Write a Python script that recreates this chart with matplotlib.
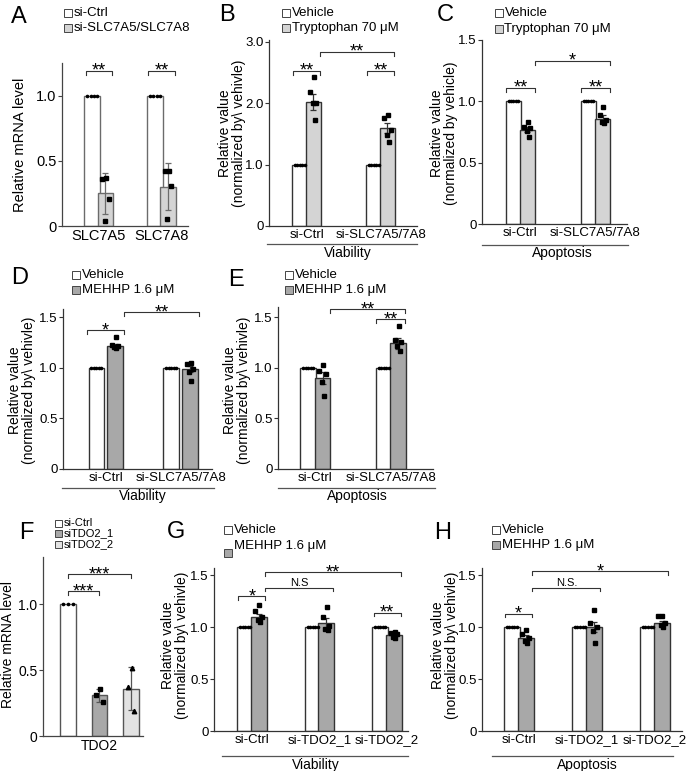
import numpy as np
import matplotlib.pyplot as plt
from matplotlib.patches import Rectangle
from matplotlib.lines import Line2D

plt.rcParams['font.family'] = ['Liberation Sans', 'DejaVu Sans']

# ---------------- data ----------------
# A: qPCR after SLC7A5/SLC7A8 knockdown
a_genes = ['SLC7A5', 'SLC7A8']
a_mean = [[1.0, 0.25], [1.0, 0.30]]
a_err = [[0, 0.155], [0, 0.18]]
a_pts = [[[1, 1, 1, 1], [0.37, 0.36, 0.21, 0.04]],
         [[1, 1, 1, 1], [0.42, 0.42, 0.31, 0.05]]]

# B: viability, tryptophan
b_groups = ['si-Ctrl', 'si-SLC7A5/7A8']
b_mean = [[1.0, 2.02], [1.0, 1.60]]
b_err = [[0, 0.13], [0, 0.08]]
b_pts = [[[1] * 5, [2.43, 2.19, 2.01, 2.01, 1.73]],
         [[1] * 5, [1.81, 1.76, 1.57, 1.48, 1.37]]]

# C: apoptosis, tryptophan
c_groups = ['si-Ctrl', 'si-SLC7A5/7A8']
c_mean = [[1.0, 0.77], [1.0, 0.86]]
c_err = [[0, 0.02], [0, 0.03]]
c_pts = [[[1] * 5, [0.83, 0.79, 0.78, 0.76, 0.71]],
         [[1] * 5, [0.95, 0.89, 0.85, 0.83, 0.82]]]

# D: viability, MEHHP
d_groups = ['si-Ctrl', 'si-SLC7A5/7A8']
d_mean = [[1.0, 1.21], [1.0, 0.99]]
d_err = [[0, 0.02], [0, 0.03]]
d_pts = [[[1] * 5, [1.30, 1.22, 1.21, 1.20, 1.19]],
         [[1] * 5, [1.05, 1.04, 0.99, 0.96, 0.87]]]

# E: apoptosis, MEHHP
e_groups = ['si-Ctrl', 'si-SLC7A5/7A8']
e_mean = [[1.0, 0.90], [1.0, 1.24]]
e_err = [[0, 0.06], [0, 0.05]]
e_pts = [[[1] * 5, [1.03, 0.97, 0.94, 0.86, 0.72]],
         [[1] * 5, [1.41, 1.27, 1.25, 1.21, 1.17]]]

# F: TDO2 knockdown
f_mean = [[1.0, 0.31, 0.36]]
f_err = [[0, 0.05, 0.165]]
f_pts = [[[1, 1, 1], [0.36, 0.31, 0.26], [0.52, 0.37, 0.19]]]

# G: viability, MEHHP, TDO2 knockdown
g_groups = ['si-Ctrl', 'si-TDO2_1', 'si-TDO2_2']
g_mean = [[1.0, 1.10], [1.0, 1.04], [1.0, 0.92]]
g_err = [[0, 0.03], [0, 0.05], [0, 0.01]]
g_pts = [[[1] * 5, [1.21, 1.16, 1.10, 1.07, 1.05]],
         [[1] * 5, [1.19, 1.10, 1.01, 0.98, 0.97]],
         [[1] * 5, [0.95, 0.94, 0.93, 0.91, 0.90]]]

# H: apoptosis, MEHHP, TDO2 knockdown
h_groups = ['si-Ctrl', 'si-TDO2_1', 'si-TDO2_2']
h_mean = [[1.0, 0.90], [1.0, 1.00], [1.0, 1.04]]
h_err = [[0, 0.02], [0, 0.05], [0, 0.02]]
h_pts = [[[1] * 5, [0.97, 0.93, 0.90, 0.87, 0.85]],
         [[1] * 5, [1.17, 1.04, 1.00, 0.96, 0.85]],
         [[1] * 5, [1.11, 1.11, 1.04, 1.02, 1.00]]]

# ---------------- layout helpers ----------------
W, H = 690, 771
fig = plt.figure(figsize=(W / 100, H / 100), dpi=100)

DARK = '#333333'
LIGHT = '#d4d4d4'
MID = '#a8a8a8'
JIT = np.array([0.05, -0.2, 0.2, -0.05, 0.1])


def add_ax(left, right, top, bottom):
    return fig.add_axes([left / W, 1 - bottom / H, (right - left) / W, (bottom - top) / H])


def ftext(x, y, s, **kw):
    fig.text(x / W, 1 - y / H, s, **kw)


def hline(x1, x2, y, color='#555555'):
    fig.add_artist(Line2D([x1 / W, x2 / W], [1 - y / H] * 2, color=color, lw=0.9))


def legend(x, ys, labels, colors, fs=9.5, box=8):
    for y, lab, c in zip(ys, labels, colors):
        fig.add_artist(Rectangle((x / W, 1 - (y + box / 2) / H), box / W, box / H,
                                 facecolor=c, edgecolor='#444444', lw=0.7))
        if lab:
            ftext(x + box + 1.5, y, lab, va='center', ha='left', fontsize=fs)


def style(ax, ylim, xlim, yticks, ylabels, edge=DARK, fs=9.5):
    ax.set_ylim(*ylim)
    ax.set_xlim(*xlim)
    for s in ['top', 'right']:
        ax.spines[s].set_visible(False)
    for s in ['left', 'bottom']:
        ax.spines[s].set_color(edge)
        ax.spines[s].set_linewidth(0.9)
    ax.set_yticks(yticks)
    ax.set_yticklabels(ylabels)
    ax.tick_params(axis='y', length=3, width=0.8, color=edge, labelsize=fs, pad=1)
    ax.tick_params(axis='x', length=0, labelsize=fs, pad=2)
    ax.patch.set_alpha(0)


def draw_bars(ax, means, errs, pts, colors, off, width, edge=DARK, markers=None):
    for g, (gm, ge, gp) in enumerate(zip(means, errs, pts)):
        n = len(gm)
        for i in range(n):
            x = g + (i - (n - 1) / 2) * off
            ax.bar(x, gm[i], width, color=colors[i], edgecolor=edge, linewidth=1.0, zorder=2)
            if ge[i] > 0:
                ax.errorbar(x, gm[i], yerr=ge[i], fmt='none', ecolor=edge, elinewidth=0.9,
                            capsize=2.5, capthick=0.9, zorder=3)
            p = np.array(gp[i], dtype=float)
            m = markers[i] if markers else 's'
            if np.all(p == 1.0):
                xs = x + np.linspace(-0.32, 0.32, len(p)) * width
                ax.plot(xs, p, 'o', ms=1.6, color='black', zorder=4, clip_on=False)
            else:
                xs = x + JIT[:len(p)] * width
                ax.plot(xs, p, m, ms=3.2, color='black', zorder=4, clip_on=False)


def bracket(ax, x1, x2, y, txt, tick, fs=13, color='#333333'):
    ax.plot([x1, x1, x2, x2], [y - tick, y, y, y - tick], color=color, lw=0.8, clip_on=False)
    # asterisks sit high in the em box, so pull their baseline below the line
    dy = -3.6 if '*' in txt else 1.5
    ax.annotate(txt, xy=((x1 + x2) / 2, y), xytext=(0, dy), textcoords='offset points',
                ha='center', va='baseline', fontsize=fs, annotation_clip=False)


def letter(x, y, s):
    ftext(x, y, s, fontsize=17, ha='left', va='center')


ylab2 = 'Relative value\n(normalized by\\ vehivle)'

# ---------------- Panel A ----------------
ax = add_ax(62, 188, 63, 226)
draw_bars(ax, a_mean, a_err, a_pts, ['white', LIGHT], 0.211, 0.25, edge='#6b6b6b')
style(ax, (0, 1.25), (-0.586, 1.42), [0, 0.5, 1.0], ['0', '0.5', '1.0'], edge='#444444', fs=10.5)
ax.set_xticks([0, 1])
ax.set_xticklabels(a_genes)
for g in range(2):
    bracket(ax, g - 0.211, g + 0.211, 1.19, '**', 0.03)
letter(11, 17, 'A')
legend(64, [12.5, 28], ['si-Ctrl', 'si-SLC7A5/SLC7A8'], ['white', LIGHT])
ftext(20, 145, 'Relative mRNA level', rotation=90, ha='center', va='center', fontsize=10.5)

# ---------------- Panel B ----------------
ax = add_ax(269, 417, 40, 226)
draw_bars(ax, b_mean, b_err, b_pts, ['white', LIGHT], 0.182, 0.21)
style(ax, (0, 3.03), (-0.507, 1.49), [0, 1, 2, 3], ['0', '1.0', '2.0', '3.0'])
ax.set_xticks([0, 1])
ax.set_xticklabels(b_groups)
bracket(ax, -0.182, 0.182, 2.53, '**', 0.07)
bracket(ax, 1 - 0.182, 1.182, 2.53, '**', 0.07)
bracket(ax, 0.182, 1.182, 2.84, '**', 0.07)
hline(267, 417, 244)
ftext(348, 253, 'Viability', ha='center', va='center', fontsize=10)
letter(219, 15, 'B')
legend(282, [12.5, 28], ['Vehicle', 'Tryptophan 70 μM'], ['white', LIGHT])
ftext(232, 133, ylab2, rotation=90, ha='center', va='center', fontsize=10,
      multialignment='center', linespacing=1.0)

# ---------------- Panel C ----------------
ax = add_ax(482, 627, 40, 224)
draw_bars(ax, c_mean, c_err, c_pts, ['white', LIGHT], 0.187, 0.2)
style(ax, (0, 1.5), (-0.513, 1.42), [0, 0.5, 1.0, 1.5], ['0', '0.5', '1.0', '1.5'])
ax.set_xticks([0, 1])
ax.set_xticklabels(c_groups)
bracket(ax, -0.187, 0.187, 1.11, '**', 0.035)
bracket(ax, 1 - 0.187, 1.187, 1.11, '**', 0.035)
bracket(ax, 0.187, 1.187, 1.33, '*', 0.035)
hline(482, 628, 245)
ftext(562, 253, 'Apoptosis', ha='center', va='center', fontsize=10)
letter(437, 15, 'C')
legend(495, [12.5, 29], ['Vehicle', 'Tryptophan 70 μM'], ['white', LIGHT])
ftext(444, 133, 'Relative value\n(normalized by vehicle)', rotation=90, ha='center',
      va='center', fontsize=10, multialignment='center', linespacing=1.0)

# ---------------- Panel D ----------------
ax = add_ax(63, 212, 309, 469)
draw_bars(ax, d_mean, d_err, d_pts, ['white', MID], 0.247, 0.21)
style(ax, (0, 1.58), (-0.57, 1.42), [0, 0.5, 1.0, 1.5], ['0', '0.5', '1.0', '1.5'])
ax.set_xticks([0, 1])
ax.set_xticklabels(d_groups)
bracket(ax, -0.247, 0.247, 1.37, '*', 0.035)
bracket(ax, 0.247, 1.247, 1.55, '**', 0.035)
hline(62, 214, 488)
ftext(143, 496, 'Viability', ha='center', va='center', fontsize=10)
letter(11, 278, 'D')
legend(72, [275, 290], ['Vehicle', 'MEHHP 1.6 μM'], ['white', MID])
ftext(22, 390, ylab2, rotation=90, ha='center', va='center', fontsize=10,
      multialignment='center', linespacing=1.0)

# ---------------- Panel E ----------------
ax = add_ax(278, 433, 307, 469)
draw_bars(ax, e_mean, e_err, e_pts, ['white', MID], 0.19, 0.21)
style(ax, (0, 1.6), (-0.495, 1.56), [0, 0.5, 1.0, 1.5], ['0', '0.5', '1.0', '1.5'])
ax.set_xticks([0, 1])
ax.set_xticklabels(e_groups)
bracket(ax, 1 - 0.19, 1.19, 1.48, '**', 0.035)
bracket(ax, 0.19, 1.19, 1.58, '**', 0.035)
hline(278, 435, 488)
ftext(357, 496, 'Apoptosis', ha='center', va='center', fontsize=10)
letter(228, 280, 'E')
legend(285, [275, 290], ['Vehicle', 'MEHHP 1.6 μM'], ['white', MID])
ftext(237, 390, ylab2, rotation=90, ha='center', va='center', fontsize=10,
      multialignment='center', linespacing=1.0)

# ---------------- Panel F ----------------
ax = add_ax(43, 143, 557, 736)
draw_bars(ax, f_mean, f_err, f_pts, ['white', MID, '#e2e2e2'], 1.0, 0.5, edge='#555555',
          markers=['o', 's', '^'])
style(ax, (0, 1.36), (-1.79, 1.38), [0, 0.5, 1.0], ['0', '0.5', '1.0'], edge='#444444', fs=10)
ax.set_xticks([0])
ax.set_xticklabels(['TDO2'])
bracket(ax, -1, 0, 1.10, '***', 0.03)
bracket(ax, -1, 1, 1.23, '***', 0.03)
letter(19, 533, 'F')
legend(55, [523, 533.5, 544], ['si-Ctrl', 'siTDO2_1', 'siTDO2_2'], ['white', MID, '#e2e2e2'],
       fs=8, box=7)
ftext(8, 645, 'Relative mRNA level', rotation=90, ha='center', va='center', fontsize=10)

# ---------------- Panel G ----------------
ax = add_ax(214, 408, 568, 731)
draw_bars(ax, g_mean, g_err, g_pts, ['white', MID], 0.2, 0.237)
style(ax, (0, 1.57), (-0.56, 2.31), [0, 0.5, 1.0, 1.5], ['0', '0.5', '1.0', '1.5'])
ax.set_xticks([0, 1, 2])
ax.set_xticklabels(g_groups)
bracket(ax, -0.2, 0.2, 1.30, '*', 0.035)
bracket(ax, 0.2, 1.2, 1.38, 'N.S', 0.035, fs=8)
bracket(ax, 0.2, 2.2, 1.53, '**', 0.035)
bracket(ax, 1.8, 2.2, 1.14, '**', 0.035)
hline(222, 408, 756)
ftext(316, 765, 'Viability', ha='center', va='center', fontsize=10)
letter(167, 532, 'G')
legend(224, [530], ['Vehicle'], ['white'])
legend(224, [553], [''], [MID])
ftext(234, 546, 'MEHHP 1.6 μM', ha='left', va='center', fontsize=9.5)
ftext(175, 645, ylab2, rotation=90, ha='center', va='center', fontsize=10,
      multialignment='center', linespacing=1.0)

# ---------------- Panel H ----------------
ax = add_ax(482, 682, 568, 731)
draw_bars(ax, h_mean, h_err, h_pts, ['white', MID], 0.2, 0.235)
style(ax, (0, 1.57), (-0.54, 2.40), [0, 0.5, 1.0, 1.5], ['0', '0.5', '1.0', '1.5'])
ax.set_xticks([0, 1, 2])
ax.set_xticklabels(h_groups)
bracket(ax, -0.2, 0.2, 1.13, '*', 0.035)
bracket(ax, 0.2, 1.2, 1.38, 'N.S.', 0.035, fs=8)
bracket(ax, 0.2, 2.2, 1.54, '*', 0.035)
hline(492, 673, 756)
ftext(587, 765, 'Apoptosis', ha='center', va='center', fontsize=10)
letter(434, 533, 'H')
legend(492, [530, 545], ['Vehicle', 'MEHHP 1.6 μM'], ['white', MID])
ftext(445, 645, ylab2, rotation=90, ha='center', va='center', fontsize=10,
      multialignment='center', linespacing=1.0)

fig.savefig('out.png', dpi=100)
